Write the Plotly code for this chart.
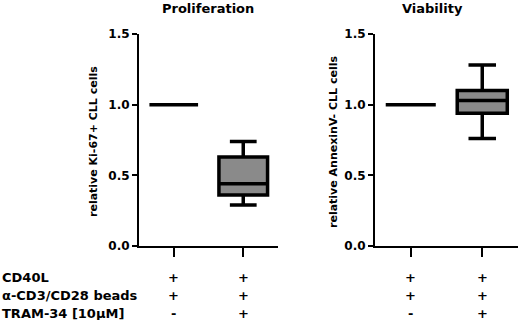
import plotly.graph_objects as go

# ---- data ----
groups = [0, 1]
prolif_lower = [1.0, 0.29]
prolif_q1 = [1.0, 0.36]
prolif_median = [1.0, 0.44]
prolif_q3 = [1.0, 0.63]
prolif_upper = [1.0, 0.74]

viab_lower = [1.0, 0.76]
viab_q1 = [1.0, 0.94]
viab_median = [1.0, 1.03]
viab_q3 = [1.0, 1.10]
viab_upper = [1.0, 1.28]

row_labels = ["CD40L", "α-CD3/CD28 beads", "TRAM-34 [10µM]"]
row_signs = [["+", "+"], ["+", "+"], ["-", "+"]]
titles = ["Proliferation", "Viability"]
ytitles = ["relative Ki-67+ CLL cells", "relative AnnexinV- CLL cells"]
ytickvals = [0, 0.5, 1.0, 1.5]

FONT = "DejaVu Sans, Liberation Sans, Arial, sans-serif"
W, H = 520, 320

fig = go.Figure()
box_style = dict(fillcolor="#8a8a8a", line=dict(color="black", width=3.5),
                 width=0.7, whiskerwidth=0.55, boxpoints=False, hoverinfo="skip")
fig.add_trace(go.Box(x=groups, q1=prolif_q1, median=prolif_median, q3=prolif_q3,
                     lowerfence=prolif_lower, upperfence=prolif_upper,
                     xaxis="x", yaxis="y", **box_style))
fig.add_trace(go.Box(x=groups, q1=viab_q1, median=viab_median, q3=viab_q3,
                     lowerfence=viab_lower, upperfence=viab_upper,
                     xaxis="x2", yaxis="y2", **box_style))

ydom = [(H - 246) / H, (H - 34) / H]
xax = dict(range=[-0.5, 1.5], showline=True, linecolor="black", linewidth=2,
           ticks="outside", ticklen=9, tickwidth=2, tickcolor="black",
           tickvals=groups, ticktext=["", ""], showgrid=False, zeroline=False,
           automargin=False)
yax = dict(range=[0, 1.5], showline=True, linecolor="black", linewidth=2,
           ticks="outside", ticklen=5, tickwidth=2, tickcolor="black",
           tickvals=ytickvals, tickformat=".1f", showgrid=False, zeroline=False,
           tickfont=dict(family=FONT, size=12, color="black", weight="bold"),
           domain=ydom, automargin=False)

fig.update_layout(
    template="none",
    width=W, height=H, margin=dict(l=0, r=0, t=0, b=0, pad=0, autoexpand=False),
    plot_bgcolor="white", paper_bgcolor="white", showlegend=False,
    xaxis=dict(domain=[139 / W, 278 / W], anchor="y", **xax),
    yaxis=dict(anchor="x", **yax),
    xaxis2=dict(domain=[375 / W, 518 / W], anchor="y2", **xax),
    yaxis2=dict(anchor="x2", **yax),
)

ann = []
bold = lambda s: dict(family=FONT, size=s, color="black", weight="bold")
for tx, t in zip([208, 432], titles):
    ann.append(dict(text=t, x=tx / W, y=(H - 8) / H, xref="paper", yref="paper",
                    xanchor="center", yanchor="middle", showarrow=False, font=bold(13)))
for tx, t in zip([93, 333], ytitles):
    ann.append(dict(text=t, x=tx / W, y=(H - 142) / H, xref="paper", yref="paper",
                    xanchor="center", yanchor="middle", textangle=-90,
                    showarrow=False, font=bold(11)))
row_y = [277, 295, 313]
for ry, lab, signs in zip(row_y, row_labels, row_signs):
    ann.append(dict(text=lab, x=0, y=(H - ry) / H, xref="paper", yref="paper",
                    xanchor="left", yanchor="middle", showarrow=False, font=bold(13)))
    for xr in ["x", "x2"]:
        for g, s in zip(groups, signs):
            ann.append(dict(text=s, x=g, y=(H - ry) / H, xref=xr, yref="paper",
                            xanchor="center", yanchor="middle", showarrow=False,
                            font=bold(13)))
fig.update_layout(annotations=ann)

fig.write_html("out.html", config={"displayModeBar": False},
               post_script="document.body.style.margin='0';")
